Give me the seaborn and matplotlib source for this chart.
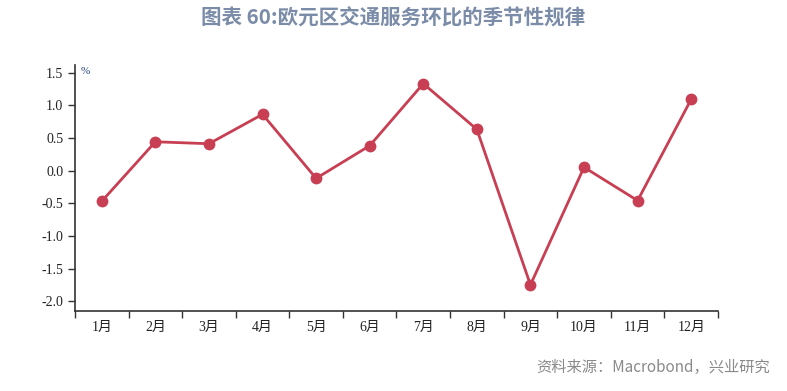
import numpy as np
import pandas as pd
import matplotlib
matplotlib.use("Agg")
import matplotlib.pyplot as plt
import seaborn as sns

months = ["1月", "2月", "3月", "4月", "5月", "6月", "7月", "8月", "9月", "10月", "11月", "12月"]
values = [-0.47, 0.44, 0.41, 0.86, -0.12, 0.38, 1.33, 0.63, -1.75, 0.05, -0.46, 1.09]
yticks = [-2.0, -1.5, -1.0, -0.5, 0.0, 0.5, 1.0, 1.5]

sns.set_style("white")
plt.rcParams["font.family"] = ["Noto Sans CJK SC", "DejaVu Sans"]

df = pd.DataFrame({"month": months, "value": values})
df["pos"] = np.arange(len(months))

fig = plt.figure(figsize=(7.87, 3.91), dpi=100)
ax = fig.add_axes([0.0953, 0.2046, 0.817, 0.630])

sns.lineplot(data=df, x="pos", y="value", ax=ax, color="#C83E52", linewidth=2.0,
             marker="o", markersize=8.5, markeredgewidth=0, markerfacecolor="#C83E52")

ax.set_xlim(-0.5, 11.5)
ax.set_ylim(-2.15, 1.62)
ax.set_xlabel("")
ax.set_ylabel("")

serif = ["Liberation Serif", "Noto Sans CJK SC"]
ax.set_xticks(np.arange(-0.5, 12, 1))
ax.set_xticklabels([])
ax.set_xticks(df["pos"], minor=True)
ax.set_xticklabels(months, minor=True, family=serif, fontsize=10, color="#222222")
ax.tick_params(axis="x", which="major", direction="out", length=5, width=1, color="#333333", bottom=True)
ax.tick_params(axis="x", which="minor", length=0, pad=7)

ax.set_yticks(yticks)
ax.set_yticklabels([f"{v:.1f}" for v in yticks], family=serif, fontsize=10, color="#222222")
ax.tick_params(axis="y", direction="out", length=5, width=1, color="#333333", left=True)

for s in ["top", "right"]:
    ax.spines[s].set_visible(False)
for s in ["left", "bottom"]:
    ax.spines[s].set_color("#333333")
    ax.spines[s].set_linewidth(1.2)

ax.text(0.008, 0.99, "%", transform=ax.transAxes, fontsize=8, color="#1F3F7A",
        family=serif, ha="left", va="top")

fig.text(0.5, 0.953, "图表 60:欧元区交通服务环比的季节性规律", ha="center", va="center",
         fontsize=14.8, fontweight="bold", color="#7B8CA8")
fig.text(0.979, 0.06, "资料来源：Macrobond，兴业研究", ha="right", va="center",
         fontsize=11, color="#8A8A8A")

fig.savefig("out.png", dpi=100, facecolor="white")
